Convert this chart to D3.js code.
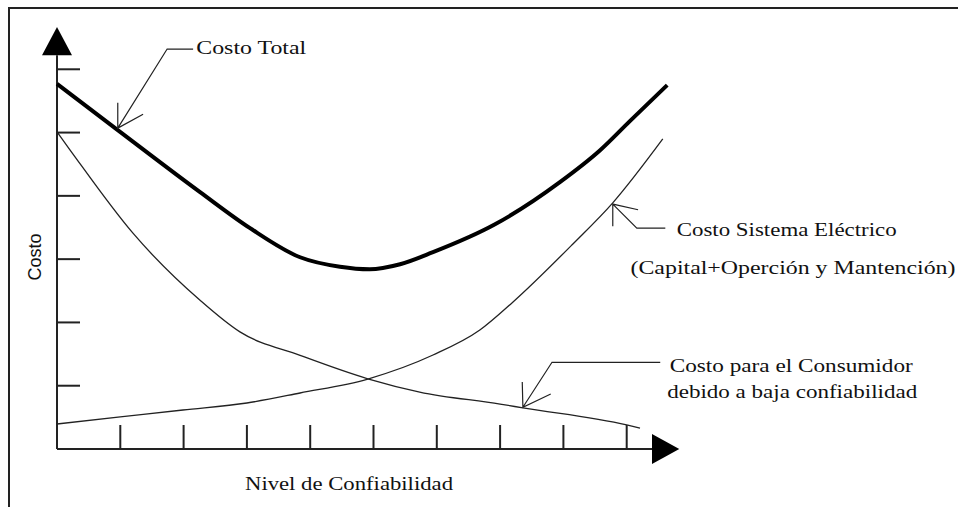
<!DOCTYPE html>
<html>
<head>
<meta charset="utf-8">
<script src="https://d3js.org/d3.v7.min.js"></script>
<style>
    body { margin: 0; background: #fff; }
    svg { display: block; }
    .lbl { font-family: "Liberation Serif", "Times New Roman", serif; font-size: 19px; fill: #111; }
</style>
</head>
<body>
<svg id="chart" width="958" height="507"></svg>
<script>

/* Curves, in axis units (x = reliability level, y = cost) */

var costoTotal = [[0, 5.77], [0.96, 5.04], [2.26, 4.06], [3.05, 3.49], [3.84, 3.03], [4.47, 2.88],
    [4.94, 2.84], [5.42, 2.92], [5.94, 3.11], [6.92, 3.55], [7.95, 4.22], [8.58, 4.72], [9.05, 5.18], [9.64, 5.75]];

var costoSistema = [[0, 0.395], [1.0, 0.506], [1.99, 0.616], [3.0, 0.727], [3.84, 0.885], [4.91, 1.106],
    [5.94, 1.485], [6.68, 1.88], [7.2, 2.32], [8.15, 3.24], [8.78, 3.89], [9.57, 4.90]];

var costoConsumidor = [[0, 5.01], [0.21, 4.72], [1.2, 3.41], [2.26, 2.35], [2.89, 1.85], [3.84, 1.48], [4.91, 1.11],
    [5.73, 0.90], [7.0, 0.71], [7.36, 0.65], [9.0, 0.38], [9.21, 0.33]];

var xTicks = [1, 2, 3, 4, 5, 6, 7, 8, 9];
var yTicks = [1, 2, 3, 4, 5, 6];

var xTitle = "Nivel de Confiabilidad";
var yTitle = "Costo";

/* callouts: tip of arrow, the two barbs, elbow, end of leader, text lines */
var callouts = [
    {tip: [0.96, 5.07], barbs: [[0.96, 5.47], [1.36, 5.29]], elbow: [1.74, 6.32], end: [2.15, 6.32],
        lines: [{t: "Costo Total", x: 2.2, y: 6.24, w: 110}]},
    {tip: [8.78, 3.87], barbs: [[8.78, 3.52], [9.18, 3.78]], elbow: [9.16, 3.49], end: [9.61, 3.49],
        lines: [{t: "Costo Sistema Eléctrico", x: 9.79, y: 3.37, w: 220},
                {t: "(Capital+Operción y Mantención)", x: 9.06, y: 2.76, w: 325}]},
    {tip: [7.36, 0.66], barbs: [[7.35, 1.06], [7.80, 0.87]], elbow: [7.82, 1.37], end: [9.53, 1.37],
        lines: [{t: "Costo para el Consumidor", x: 9.68, y: 1.22, w: 243},
                {t: "debido a baja confiabilidad", x: 9.64, y: 0.8, w: 250}]}
];

var svg = d3.select("svg");

var x = d3.scaleLinear().domain([0, 10]).range([57, 690]);
var y = d3.scaleLinear().domain([0, 7]).range([449, 6]);

/* outer frame, only top and left visible */
svg.append("path")
    .attr("d", "M9,520 L9,8 L970,8")
    .attr("fill", "none")
    .attr("stroke", "#222")
    .attr("stroke-width", 2);

/* axes with arrow heads */
var ax = svg.append("g").attr("stroke", "#222").attr("stroke-width", 2);

ax.append("line")
    .attr("x1", x(0)).attr("y1", y(0))
    .attr("x2", x(9.4)).attr("y2", y(0));

ax.append("line")
    .attr("x1", x(0)).attr("y1", y(0))
    .attr("x2", x(0)).attr("y2", y(6.22));

svg.append("path")
    .attr("d", "M" + x(9.4) + "," + (y(0) - 15) + "L" + x(9.83) + "," + y(0) + "L" + x(9.4) + "," + (y(0) + 15) + "Z")
    .attr("fill", "#000");

svg.append("path")
    .attr("d", "M" + (x(0) - 15) + "," + y(6.22) + "L" + x(0) + "," + y(6.67) + "L" + (x(0) + 15) + "," + y(6.22) + "Z")
    .attr("fill", "#000");

ax.selectAll(".xt")
    .data(xTicks)
    .enter().append("line")
    .attr("x1", function (d) { return x(d); })
    .attr("x2", function (d) { return x(d); })
    .attr("y1", y(0))
    .attr("y2", y(0) - 24);

ax.selectAll(".yt")
    .data(yTicks)
    .enter().append("line")
    .attr("y1", function (d) { return y(d); })
    .attr("y2", function (d) { return y(d); })
    .attr("x1", x(0))
    .attr("x2", x(0) + 23);

/* axis titles */
svg.append("text")
    .attr("class", "lbl")
    .attr("x", x(0) + 188)
    .attr("y", y(0) + 41)
    .attr("textLength", 208)
    .attr("lengthAdjust", "spacingAndGlyphs")
    .text(xTitle);

svg.append("text")
    .attr("transform", "translate(41," + (y(0) - 192) + ") rotate(-90)")
    .attr("text-anchor", "middle")
    .style("font-family", "'Liberation Sans', Arial, sans-serif")
    .style("font-size", "18px")
    .style("fill", "#111")
    .text(yTitle);

/* curves */
var line = d3.line()
    .x(function (d) { return x(d[0]); })
    .y(function (d) { return y(d[1]); })
    .curve(d3.curveMonotoneX);

svg.append("path").datum(costoSistema)
    .attr("d", line).attr("fill", "none").attr("stroke", "#222").attr("stroke-width", 1.3);

svg.append("path").datum(costoConsumidor)
    .attr("d", line).attr("fill", "none").attr("stroke", "#222").attr("stroke-width", 1.3);

svg.append("path").datum(costoTotal)
    .attr("d", line).attr("fill", "none").attr("stroke", "#000").attr("stroke-width", 4);

/* callouts */
var co = svg.selectAll(".callout")
    .data(callouts)
    .enter().append("g")
    .attr("class", "callout");

co.append("path")
    .attr("fill", "none")
    .attr("stroke", "#222")
    .attr("stroke-width", 1.2)
    .attr("d", function (d) {
        var p = function (a) { return x(a[0]) + "," + y(a[1]); };
        return "M" + p(d.barbs[0]) + "L" + p(d.tip) + "L" + p(d.barbs[1]) +
            "M" + p(d.tip) + "L" + p(d.elbow) + "L" + p(d.end);
    });

co.selectAll("text")
    .data(function (d) { return d.lines; })
    .enter().append("text")
    .attr("class", "lbl")
    .attr("x", function (d) { return x(d.x); })
    .attr("y", function (d) { return y(d.y); })
    .attr("textLength", function (d) { return d.w; })
    .attr("lengthAdjust", "spacingAndGlyphs")
    .text(function (d) { return d.t; });

</script>
</body>
</html>
